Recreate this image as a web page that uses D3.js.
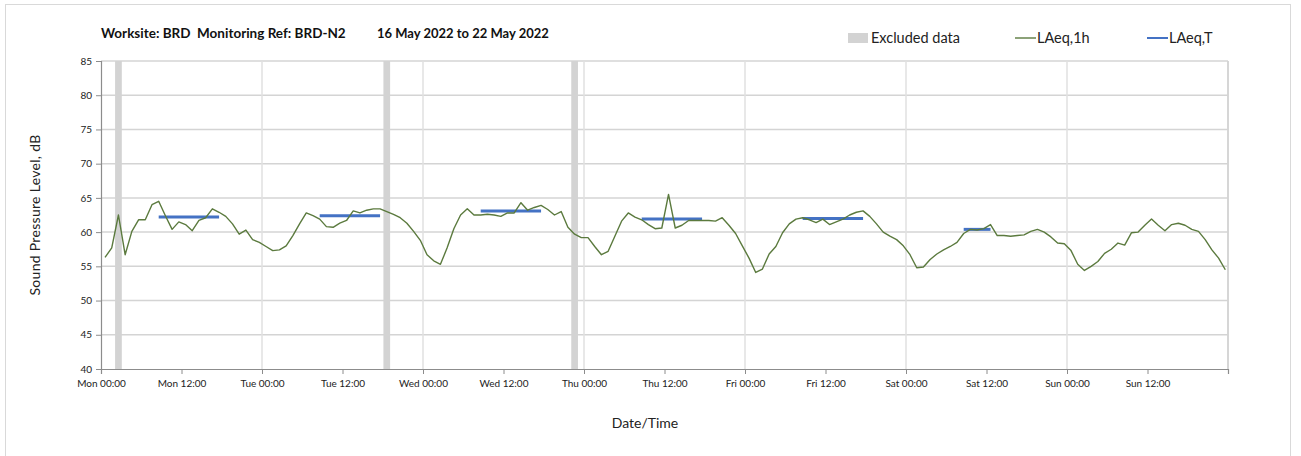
<!DOCTYPE html>
<html><head><meta charset="utf-8">
<script src="https://cdn.jsdelivr.net/npm/d3@7/dist/d3.min.js"></script>
<style>
html,body{margin:0;padding:0;background:#fff;}
svg{display:block;font-family:Lato,"Open Sans",sans-serif;}
text{white-space:pre;}
</style></head>
<body><svg id="chart" width="1301" height="456"></svg>
<script>
// ---- data ----
const hourlyLAeq1h = [
56.3,57.7,62.5,56.7,60.1,61.8,61.8,64.0,64.5,62.4,60.4,61.5,61.1,60.2,61.7,62.1,63.4,62.9,62.3,61.2,59.7,60.3,58.9,58.5,
57.9,57.3,57.4,58.0,59.5,61.2,62.8,62.4,61.9,60.8,60.7,61.3,61.7,63.1,62.8,63.2,63.4,63.4,63.0,62.6,62.1,61.3,60.1,58.8,
56.7,55.8,55.3,57.7,60.5,62.5,63.4,62.5,62.5,62.6,62.5,62.3,62.8,62.8,64.3,63.2,63.6,63.9,63.3,62.5,63.0,60.7,59.7,59.2,
59.2,57.9,56.7,57.2,59.4,61.6,62.8,62.2,61.8,61.1,60.5,60.6,65.5,60.6,61.0,61.7,61.7,61.7,61.7,61.6,62.1,61.0,59.8,58.0,
56.2,54.1,54.6,56.8,57.9,59.9,61.2,61.9,62.1,61.8,61.4,61.9,61.1,61.5,61.9,62.5,62.9,63.1,62.3,61.2,60.0,59.4,58.9,58.0,
56.7,54.8,54.9,56.0,56.8,57.4,57.9,58.5,59.8,60.4,60.3,60.5,61.1,59.5,59.5,59.4,59.5,59.6,60.1,60.4,60.0,59.3,58.4,58.3,
57.3,55.3,54.4,55.0,55.7,56.9,57.5,58.4,58.1,59.9,60.0,61.0,61.9,61.0,60.2,61.1,61.3,61.0,60.4,60.1,58.9,57.4,56.2,54.5
];
const laeqTStartHour = [8, 32, 56, 80, 104, 128];
const laeqTEndHour   = [17, 41, 65, 89, 113, 132];
const laeqTValues    = [62.2, 62.4, 63.1, 61.9, 62.0, 60.4];
const excludedHours  = [2, 42, 70];
const tickHours  = [0,12,24,36,48,60,72,84,96,108,120,132,144,156];
const tickLabels = ["Mon 00:00","Mon 12:00","Tue 00:00","Tue 12:00","Wed 00:00","Wed 12:00","Thu 00:00","Thu 12:00","Fri 00:00","Fri 12:00","Sat 00:00","Sat 12:00","Sun 00:00","Sun 12:00"];
const yTicks = [40,45,50,55,60,65,70,75,80,85];
const titleLeft  = "Worksite: BRD  Monitoring Ref: BRD-N2";
const titleRight = "16 May 2022 to 22 May 2022";

// ---- layout ----
const svg = d3.select("#chart");
const m = {left:101, right:1228, top:61, bottom:369};
const x = d3.scaleLinear().domain([0,168]).range([m.left, m.right]);
const y = d3.scaleLinear().domain([40,85]).range([m.bottom, m.top]);
const ptOff = 0.6; // hourly value plotted mid-interval

// outer border
svg.append("rect").attr("x",5.5).attr("y",4.5).attr("width",1285).attr("height",460)
  .attr("fill","none").attr("stroke","#d9d9d9").attr("stroke-width",1);

// horizontal gridlines
svg.append("g").selectAll("line").data(yTicks.filter(d=>d>40)).join("line")
  .attr("x1",m.left).attr("x2",m.right).attr("y1",d=>y(d)).attr("y2",d=>y(d))
  .attr("stroke","#d4d4d4").attr("stroke-width",1.5);
// vertical gridlines at midnights
svg.append("g").selectAll("line").data(tickHours.filter(h=>h%24===0 && h>0).concat([168])).join("line")
  .attr("x1",d=>x(d)).attr("x2",d=>x(d)).attr("y1",m.top).attr("y2",m.bottom)
  .attr("stroke","#e0e0e0").attr("stroke-width",1.5);

// excluded bars
svg.append("g").selectAll("rect").data(excludedHours).join("rect")
  .attr("x",d=>x(d+0.1)).attr("width",d=>x(d+1.1)-x(d+0.1))
  .attr("y",m.top).attr("height",m.bottom-m.top)
  .attr("fill","#d3d3d3");

// LAeq,T
svg.append("g").selectAll("line").data(laeqTValues.map((v,i)=>({s:laeqTStartHour[i],e:laeqTEndHour[i],v}))).join("line")
  .attr("x1",d=>x(d.s+ptOff)).attr("x2",d=>x(d.e+ptOff))
  .attr("y1",d=>y(d.v)).attr("y2",d=>y(d.v))
  .attr("stroke","#4472c4").attr("stroke-width",3);

// LAeq,1h
const line = d3.line().x((d,i)=>x(i+ptOff)).y(d=>y(d));
svg.append("path").datum(hourlyLAeq1h).attr("d",line)
  .attr("fill","none").attr("stroke","#5b7a3e").attr("stroke-width",1.4).attr("stroke-linejoin","round");

// axes
const axisCol = "#8c8c8c";
const yAxis = svg.append("g").attr("transform",`translate(${m.left},0)`)
  .call(d3.axisLeft(y).tickValues(yTicks).tickSize(5).tickPadding(4).tickFormat(d3.format("d")));
const xAxis = svg.append("g").attr("transform",`translate(0,${m.bottom})`)
  .call(d3.axisBottom(x).tickValues(tickHours.concat([168])).tickSize(5).tickPadding(6)
    .tickFormat(h=>{const k=tickHours.indexOf(h); return k>=0?tickLabels[k]:"";}));
[yAxis,xAxis].forEach(g=>{
  g.select(".domain").attr("stroke",axisCol).attr("stroke-width",1.2);
  g.selectAll(".tick line").attr("stroke",axisCol);
  g.selectAll(".tick text").attr("fill","#222").attr("font-size",10).attr("font-family","Lato, sans-serif");
});
// right border of plot
svg.append("line").attr("x1",m.right).attr("x2",m.right).attr("y1",m.top).attr("y2",m.bottom)
  .attr("stroke","#d0d0d0").attr("stroke-width",1.5);

// title
svg.append("text").attr("x",101).attr("y",38).attr("font-size",13.5).attr("font-weight","bold")
  .attr("fill","#111").text(titleLeft);
svg.append("text").attr("x",377).attr("y",38).attr("font-size",13).attr("font-weight","bold")
  .attr("fill","#111").text(titleRight);

// axis titles
svg.append("text").attr("transform",`translate(40,${(m.top+m.bottom)/2}) rotate(-90)`)
  .attr("text-anchor","middle").attr("font-size",14).attr("letter-spacing",0.3).attr("fill","#222").text("Sound Pressure Level, dB");
svg.append("text").attr("x",645).attr("y",428).attr("text-anchor","middle")
  .attr("font-size",14).attr("fill","#222").text("Date/Time");

// legend
const lg = svg.append("g").attr("font-size",14.5).attr("fill","#222");
lg.append("rect").attr("x",848).attr("y",33).attr("width",20).attr("height",10).attr("fill","#d3d3d3");
lg.append("text").attr("x",871).attr("y",43).text("Excluded data");
lg.append("line").attr("x1",1015).attr("x2",1036).attr("y1",38).attr("y2",38).attr("stroke","#5b7a3e").attr("stroke-width",1.4);
lg.append("text").attr("x",1037).attr("y",43).text("LAeq,1h");
lg.append("line").attr("x1",1147).attr("x2",1168).attr("y1",38).attr("y2",38).attr("stroke","#4472c4").attr("stroke-width",2);
lg.append("text").attr("x",1169).attr("y",43).text("LAeq,T");
</script></body></html>
